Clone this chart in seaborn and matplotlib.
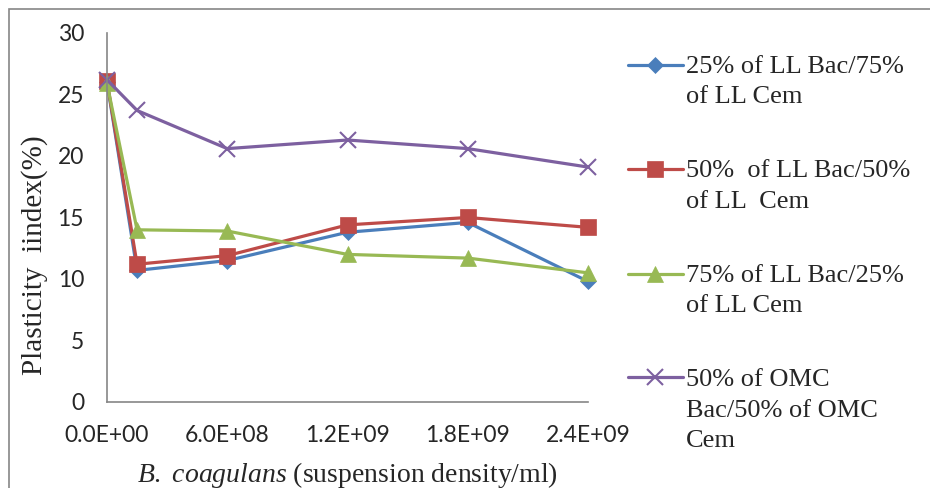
import matplotlib
matplotlib.use("Agg")
import numpy as np
import matplotlib.pyplot as plt
import seaborn as sns
import pandas as pd
from matplotlib.ticker import FuncFormatter
from matplotlib.patches import Rectangle
from matplotlib.legend_handler import HandlerLine2D

# data
density = [0, 1.5e8, 6.0e8, 1.2e9, 1.8e9, 2.4e9]
ll25 = [26.0, 10.7, 11.5, 13.8, 14.6, 9.8]
ll50 = [26.1, 11.2, 11.9, 14.4, 15.0, 14.2]
ll75 = [25.9, 14.0, 13.9, 12.0, 11.7, 10.5]
omc50 = [26.2, 23.7, 20.6, 21.3, 20.6, 19.1]

labels = ["25% of LL Bac/75%\nof LL Cem",
          "50%  of LL Bac/50%\nof LL  Cem",
          "75% of LL Bac/25%\nof LL Cem",
          "50% of OMC\nBac/50% of OMC\nCem"]
colors = ["#4A7EBB", "#BE4B48", "#98B954", "#7D60A0"]
markers = ["D", "s", "^", "x"]
msizes = [8, 11, 11, 11]


class FirstLineHandler(HandlerLine2D):
    # put the legend line next to the first text line, like Excel does
    def __init__(self, shift, **kw):
        super().__init__(**kw)
        self.shift = shift

    def create_artists(self, legend, orig_handle, xdescent, ydescent, width, height, fontsize, trans):
        arts = super().create_artists(legend, orig_handle, xdescent, ydescent, width, height, fontsize, trans)
        for a in arts:
            a.set_ydata(np.asarray(a.get_ydata()) + self.shift)
        return arts


sns.set_style("white")
plt.rcParams["mathtext.fontset"] = "custom"
plt.rcParams["mathtext.it"] = "Liberation Serif:italic"
plt.rcParams["mathtext.rm"] = "Liberation Serif"

fig = plt.figure(figsize=(9.3, 4.88), dpi=100)
ax = fig.add_axes([107/930, 1-402/488, (588-107)/930, (402-33)/488])

series = [ll25, ll50, ll75, omc50]
for vals, lab, c, m, ms in zip(series, labels, colors, markers, msizes):
    df = pd.DataFrame({"x": density, "y": vals})
    sns.lineplot(data=df, x="x", y="y", ax=ax, color=c, marker=m, markersize=ms,
                 markeredgecolor=c, markeredgewidth=1.5 if m == "x" else 0.5,
                 linewidth=2.3, label=lab, clip_on=False)

ax.set_xlim(0, 2.4e9)
ax.set_ylim(0, 30)
ax.set_xticks([0, 6e8, 1.2e9, 1.8e9, 2.4e9])
ax.set_yticks(range(0, 31, 5))
ax.xaxis.set_major_formatter(FuncFormatter(lambda v, p: f"{v:.1E}"))
for s in ["top", "right"]:
    ax.spines[s].set_visible(False)
for s in ["left", "bottom"]:
    ax.spines[s].set_color("#868686")
    ax.spines[s].set_linewidth(1.2)
ax.tick_params(axis="both", direction="out", color="#868686", width=1.2, labelsize=16.5)
ax.tick_params(axis="x", length=5, pad=11.5)
ax.tick_params(axis="y", length=5.5, pad=11)
for t in ax.get_xticklabels() + ax.get_yticklabels():
    t.set_fontfamily("Lato")

ax.set_xlabel(r"$\mathit{B.}$ $\mathit{coagulans}$ (suspension density/ml)",
              fontfamily="Liberation Serif", fontsize=20, labelpad=10)
ax.set_ylabel("Plasticity  iindex(%)", fontfamily="Liberation Serif", fontsize=21)
ax.yaxis.set_label_coords(-0.122, (402-255)/369)

lsp = 1.5
line_h = 19 * lsp * 0.83  # rough text line height in points
handles, labs = ax.get_legend_handles_labels()
hmap = {h: FirstLineHandler((l.count("\n")) / 2 * line_h) for h, l in zip(handles, labs)}
leg = ax.legend(handles, labs, loc="upper left", bbox_to_anchor=(617/930, 1-45/488),
                bbox_transform=fig.transFigure, frameon=False,
                prop={"family": "Liberation Serif", "size": 19},
                handlelength=2.1, handletextpad=0.12, labelspacing=1.97,
                borderaxespad=0, handler_map=hmap)
for t in leg.get_texts():
    t.set_linespacing(lsp)

fig.patches.append(Rectangle((9/930, -0.1), 1.2, 1.1 - 9/488, transform=fig.transFigure,
                             fill=False, edgecolor="#868686", linewidth=1.2))

fig.savefig("out.png", dpi=100)
